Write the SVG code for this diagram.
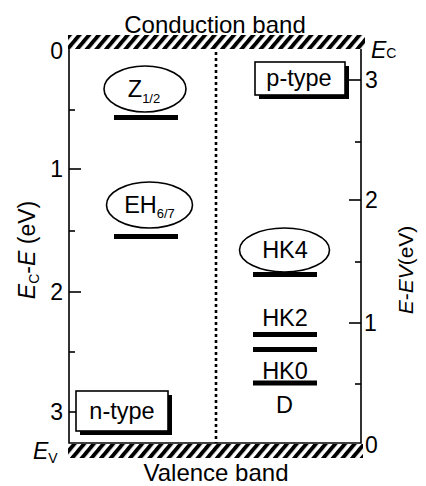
<svg xmlns="http://www.w3.org/2000/svg" width="426" height="486" viewBox="0 0 426 486">
<defs>
<pattern id="hatch" patternUnits="userSpaceOnUse" width="7.4" height="7.4" patternTransform="rotate(40)">
<rect x="0" y="0" width="3.9" height="7.4" fill="#000"/>
</pattern>
</defs>
<style>
text{font-family:"Liberation Sans",Arial,sans-serif;fill:#000}
.lbl{font-size:23.5px}
.num{font-size:23px}
.sub{font-size:13px}
.frame{fill:none;stroke:#000;stroke-width:1.6}
.tick{stroke:#000;stroke-width:1.6}
.oval{fill:#fff;stroke:#000;stroke-width:1.6}
.bar{fill:#000}
.box{fill:#fff;stroke:#000;stroke-width:1.6}
.shadow{fill:#000}
</style>
<rect width="426" height="486" fill="#fff"/>
<g id="bands">
<rect x="68" y="35" width="297" height="14" fill="url(#hatch)"/>
<rect x="68" y="444" width="295" height="14" fill="url(#hatch)"/>
<text x="215" y="33" text-anchor="middle" style="font-size:24px">Conduction band</text>
<text x="216" y="481" text-anchor="middle" style="font-size:24px">Valence band</text>
</g>
<g id="axes">
<path class="frame" d="M69,49 V443 H361 V49"/>
<g class="tick">
<line x1="69" y1="110" x2="75" y2="110"/>
<line x1="69" y1="169" x2="81" y2="169"/>
<line x1="69" y1="231" x2="75" y2="231"/>
<line x1="69" y1="292" x2="81" y2="292"/>
<line x1="69" y1="352" x2="75" y2="352"/>
<line x1="69" y1="412" x2="81" y2="412"/>
<line x1="349" y1="80" x2="361" y2="80"/>
<line x1="355" y1="142" x2="361" y2="142"/>
<line x1="349" y1="200" x2="361" y2="200"/>
<line x1="355" y1="262" x2="361" y2="262"/>
<line x1="349" y1="323" x2="361" y2="323"/>
<line x1="355" y1="384" x2="361" y2="384"/>
</g>
<g class="num" text-anchor="end">
<text x="63" y="59">0</text>
<text x="63" y="177">1</text>
<text x="63" y="300">2</text>
<text x="63" y="420">3</text>
</g>
<g class="num">
<text x="365" y="88">3</text>
<text x="365" y="208">2</text>
<text x="364" y="331">1</text>
<text x="365" y="453">0</text>
</g>
<text x="371" y="58" style="font-size:23px"><tspan font-style="italic">E</tspan><tspan style="font-size:14px">C</tspan></text>
<text x="33" y="459" style="font-size:23px"><tspan font-style="italic">E</tspan><tspan dy="4" style="font-size:14px">V</tspan></text>
<text transform="translate(35,250) rotate(-90)" text-anchor="middle" style="font-size:23px"><tspan font-style="italic">E</tspan><tspan dy="4" style="font-size:14px">C</tspan><tspan dy="-4">-</tspan><tspan font-style="italic">E</tspan> (eV)</text>
<text transform="translate(413,270) rotate(-90)" text-anchor="middle" style="font-size:21px"><tspan font-style="italic">E</tspan>-<tspan font-style="italic">EV</tspan>(eV)</text>
</g>
<g id="divider">
<line x1="216" y1="52" x2="216" y2="443" stroke="#000" stroke-width="2.6" stroke-dasharray="3,3"/>
</g>
<g id="Z12">
<ellipse class="oval" cx="145" cy="89" rx="41" ry="23"/>
<text class="lbl" x="144" y="97" text-anchor="middle">Z<tspan class="sub" dy="6">1/2</tspan></text>
<rect class="bar" x="114" y="115" width="64" height="5"/>
</g>
<g id="EH67">
<ellipse class="oval" cx="149.5" cy="205" rx="43" ry="23"/>
<text class="lbl" x="149.5" y="213" text-anchor="middle">EH<tspan class="sub" dy="5">6/7</tspan></text>
<rect class="bar" x="114" y="234" width="64" height="5"/>
</g>
<g id="HK4">
<ellipse class="oval" cx="284.5" cy="250" rx="45" ry="22"/>
<text class="lbl" x="285" y="258" text-anchor="middle">HK4</text>
<rect class="bar" x="253" y="272" width="64" height="5"/>
</g>
<g id="HK2">
<text class="lbl" x="285" y="326" text-anchor="middle">HK2</text>
<rect class="bar" x="253" y="332" width="64" height="5"/>
<rect class="bar" x="253" y="347" width="64" height="5"/>
</g>
<g id="HK0">
<text class="lbl" x="285" y="379" text-anchor="middle">HK0</text>
<rect class="bar" x="253" y="380.5" width="64" height="5"/>
</g>
<g id="D">
<text class="lbl" x="284.5" y="413" text-anchor="middle">D</text>
</g>
<g id="ptype">
<rect class="shadow" x="259" y="66" width="90" height="33"/>
<rect class="box" x="255" y="62" width="90" height="33"/>
<text class="lbl" x="299" y="86" text-anchor="middle">p-type</text>
</g>
<g id="ntype">
<rect class="shadow" x="80" y="395" width="92" height="40"/>
<rect class="box" x="76" y="391" width="92" height="40"/>
<text class="lbl" x="122" y="419" text-anchor="middle">n-type</text>
</g>
</svg>
